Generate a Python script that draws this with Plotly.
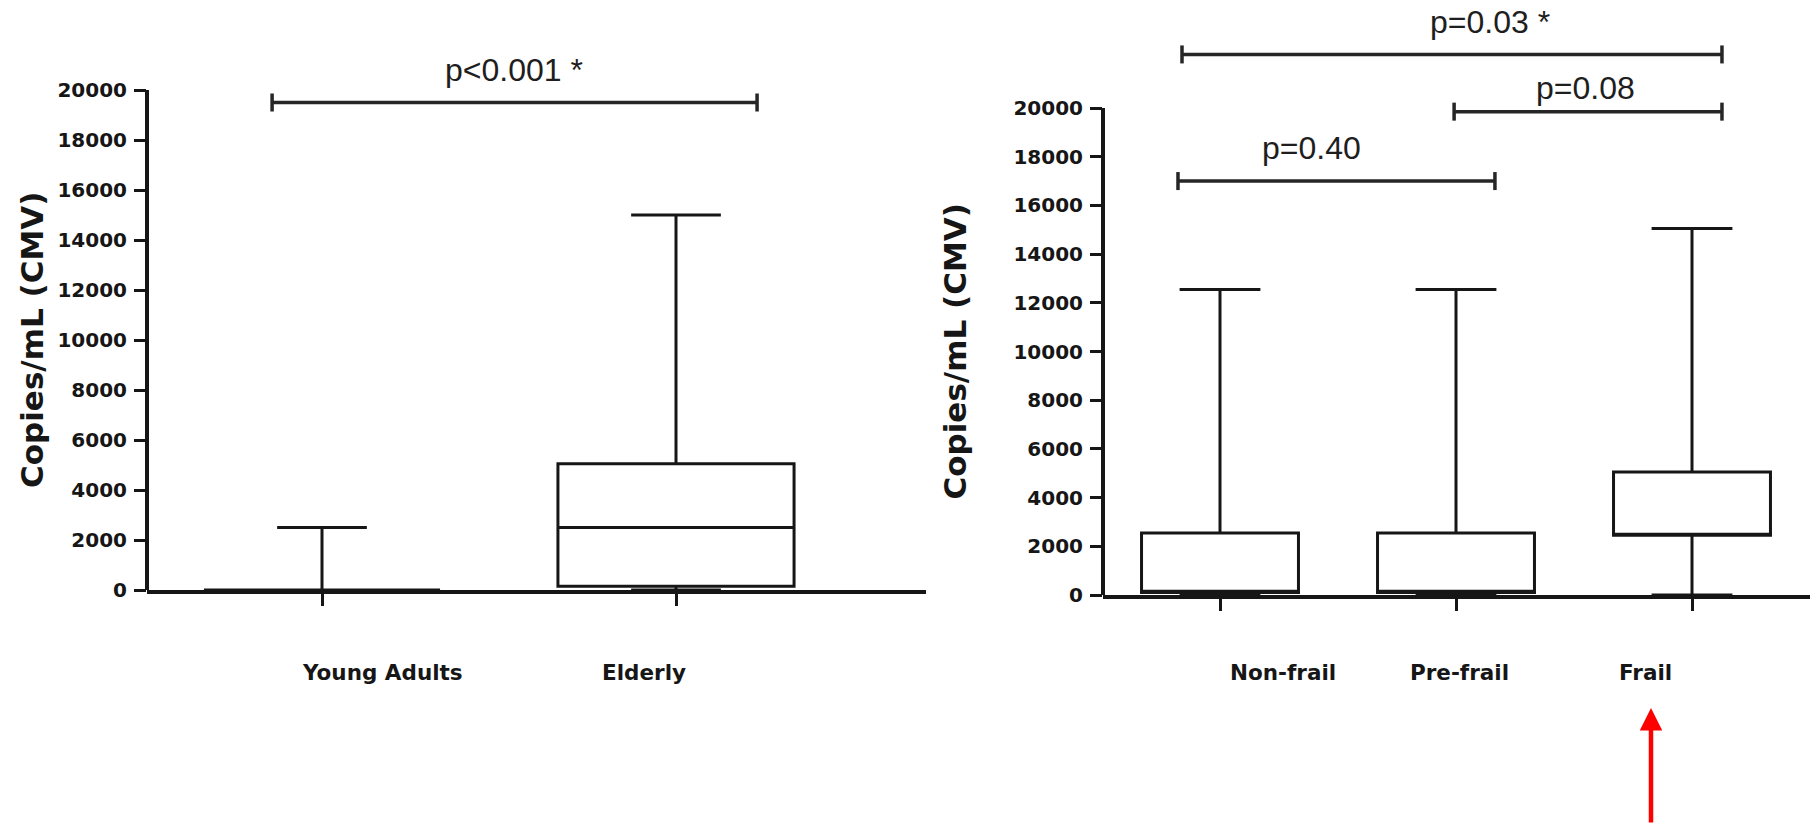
import plotly.graph_objects as go

W, H = 1816, 824

# ---------------- data ----------------
age_groups = ["Young Adults", "Elderly"]
age_min = [0, 0]
age_q1 = [0, 150]
age_median = [0, 2500]
age_q3 = [0, 5050]
age_max = [2500, 15000]

frailty_groups = ["Non-frail", "Pre-frail", "Frail"]
frail_min = [0, 0, 0]
frail_q1 = [100, 100, 2450]
frail_median = [150, 150, 2500]
frail_q3 = [2550, 2550, 5050]
frail_max = [12550, 12550, 15050]

y_ticks = [0, 2000, 4000, 6000, 8000, 10000, 12000, 14000, 16000, 18000, 20000]
y_title = "Copies/mL (CMV)"

left_pvalues = ["p<0.001 *"]
left_bracket_level = [19500]
right_pvalues = ["p=0.40", "p=0.08", "p=0.03 *"]
right_bracket_level = [17000, 19850, 22200]

# ---------------- layout / style constants (pixels) ----------------
INK = "#161616"
BOLD = dict(family="DejaVu Sans", weight="bold", color=INK)

L = dict(axis_px=147, right_px=926, y0_px=590, ytop_px=90, ticks_px=[322, 676],
         box_w=0.667, whisk=0.38, title_px=32,
         label_shift=[60, -32],
         brackets=[(0.859, 2.229)], text_x=[1.542], text_shift=[33])
R = dict(axis_px=1103, right_px=1810, y0_px=595, ytop_px=108, ticks_px=[1220, 1456, 1692],
         box_w=0.665, whisk=0.515, title_px=954,
         label_shift=[63, 3, -47],
         brackets=[(0.822, 2.165), (1.992, 3.127), (0.839, 3.127)],
         text_x=[1.386, 2.547, 2.144], text_shift=[33, 24, 32])
LABEL_Y_PX = 672


def axis_geometry(p, n):
    ppu = p["ticks_px"][1] - p["ticks_px"][0]
    x_lo = 1 - (p["ticks_px"][0] - p["axis_px"]) / ppu
    x_hi = n + (p["right_px"] - p["ticks_px"][-1]) / ppu
    ymax = max(y_ticks)
    y_hi = ymax * p["y0_px"] / (p["y0_px"] - p["ytop_px"])
    return [x_lo, x_hi], [0, y_hi], [p["axis_px"] / W, p["right_px"] / W], [(H - p["y0_px"]) / H, 1]


fig = go.Figure()

panels = [
    (L, age_groups, age_min, age_q1, age_median, age_q3, age_max, left_pvalues, left_bracket_level, "x", "y"),
    (R, frailty_groups, frail_min, frail_q1, frail_median, frail_q3, frail_max, right_pvalues, right_bracket_level, "x2", "y2"),
]

shapes = []
annotations = []
for idx, (p, groups, mn, q1, med, q3, mx, pvals, levels, xa, ya) in enumerate(panels):
    n = len(groups)
    pos = list(range(1, n + 1))
    fig.add_trace(go.Box(
        x=pos, q1=q1, median=med, q3=q3, lowerfence=mn, upperfence=mx,
        width=p["box_w"], whiskerwidth=p["whisk"],
        line=dict(color=INK, width=3), fillcolor="white",
        boxpoints=False, showlegend=False, hoverinfo="skip",
        xaxis=xa, yaxis=ya,
    ))
    xr, yr, xdom, ydom = axis_geometry(p, n)
    sfx = "" if idx == 0 else "2"
    fig.update_layout(**{
        "xaxis" + sfx: dict(domain=xdom, range=xr, anchor=ya, showgrid=False, zeroline=False,
                            showline=True, linecolor=INK, linewidth=4, automargin=False,
                            tickvals=pos, ticktext=["" for _ in pos], ticks="outside",
                            ticklen=12, tickwidth=3, tickcolor=INK, fixedrange=True),
        "yaxis" + sfx: dict(domain=ydom, range=yr, anchor=xa, showgrid=False, zeroline=False,
                            showline=False, tickvals=y_ticks, ticktext=[str(v) for v in y_ticks],
                            ticks="outside", ticklen=12, tickwidth=3, tickcolor=INK, automargin=False,
                            tickfont=dict(size=20, **BOLD), ticklabelstandoff=3, fixedrange=True),
    })
    # y axis line (only to the top tick)
    shapes.append(dict(type="line", xref=xa + " domain", yref=ya, x0=0, x1=0,
                       y0=0, y1=max(y_ticks), line=dict(color=INK, width=4)))
    # y title
    annotations.append(dict(text=y_title, textangle=-90, xref="paper", yref=ya,
                            x=p["title_px"] / W, y=max(y_ticks) / 2, showarrow=False,
                            xanchor="center", yanchor="middle", font=dict(size=31, **BOLD)))
    # category labels
    for g, xp, sh in zip(groups, pos, p["label_shift"]):
        annotations.append(dict(text=g, xref=xa, yref="paper", x=xp, y=(H - LABEL_Y_PX) / H,
                                xshift=sh, showarrow=False, xanchor="center", yanchor="middle",
                                font=dict(size=21.5, **BOLD)))
    # significance brackets
    for pv, lvl, (b0, b1), tx, ts in zip(pvals, levels, p["brackets"], p["text_x"], p["text_shift"]):
        bl = dict(color="#262626", width=3.5)
        shapes.append(dict(type="line", xref=xa, yref=ya, x0=b0, x1=b1, y0=lvl, y1=lvl, line=bl))
        for bx in (b0, b1):
            shapes.append(dict(type="line", xref=xa, yref=ya, x0=bx, x1=bx, ysizemode="pixel",
                               yanchor=lvl, y0=-9, y1=9, line=bl))
        annotations.append(dict(text=pv, xref=xa, yref=ya, x=tx, y=lvl, yshift=ts,
                                showarrow=False, xanchor="center", yanchor="middle",
                                font=dict(family="Liberation Sans, Arial", size=32, color="#1e1e1e")))

# red arrow pointing at "Frail"
annotations.append(dict(text="", xref="paper", yref="paper", x=1651 / W, y=(H - 708) / H,
                        ax=0, ay=130, showarrow=True, arrowhead=2, arrowsize=1.0,
                        arrowwidth=4.5, arrowcolor="#ff0000", standoff=0))

fig.update_layout(width=W, height=H, margin=dict(l=0, r=0, t=0, b=0, autoexpand=False),
                  paper_bgcolor="white", plot_bgcolor="white", showlegend=False,
                  shapes=shapes, annotations=annotations)

fig.write_html("out.html")
